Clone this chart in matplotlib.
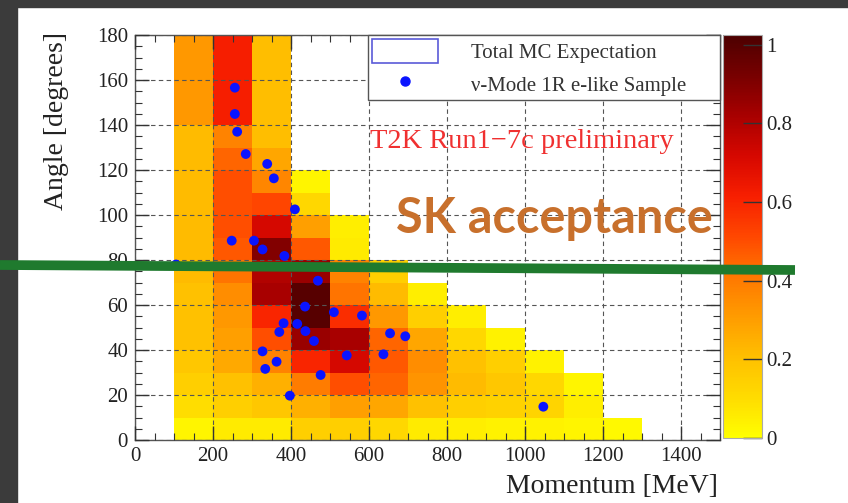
import numpy as np
import matplotlib
matplotlib.use("Agg")
import matplotlib.pyplot as plt
from matplotlib.colors import LinearSegmentedColormap, Normalize
from matplotlib.patches import Rectangle, Patch
from matplotlib.lines import Line2D
from matplotlib.ticker import MultipleLocator

# ---------------- data ----------------
momentum_edges = [100, 200, 300, 400, 500, 600, 700, 800, 900, 1000, 1100, 1200, 1300]
angle_edges = list(range(0, 190, 10))

# MC expectation per momentum bin, from 0 deg upward (10 deg bins); missing = empty
mc_100_200 = [0.03, 0.10, 0.15, 0.18, 0.20, 0.20, 0.20, 0.22, 0.22, 0.22, 0.22, 0.22, 0.22, 0.22, 0.32, 0.32, 0.32, 0.32]
mc_200_300 = [0.06, 0.15, 0.20, 0.27, 0.30, 0.32, 0.35, 0.42, 0.48, 0.50, 0.50, 0.50, 0.45, 0.38, 0.62, 0.62, 0.62, 0.62]
mc_300_400 = [0.06, 0.18, 0.25, 0.38, 0.50, 0.60, 0.82, 0.80, 0.90, 0.72, 0.52, 0.37, 0.28, 0.21, 0.21, 0.21, 0.21, 0.21]
mc_400_500 = [0.15, 0.25, 0.40, 0.60, 0.85, 1.00, 1.00, 0.85, 0.48, 0.30, 0.12, 0.03]
mc_500_600 = [0.15, 0.30, 0.50, 0.72, 0.82, 0.58, 0.42, 0.38, 0.06, 0.05]
mc_600_700 = [0.12, 0.28, 0.45, 0.48, 0.45, 0.32, 0.22, 0.15]
mc_700_800 = [0.06, 0.20, 0.33, 0.35, 0.28, 0.15, 0.05]
mc_800_900 = [0.05, 0.15, 0.22, 0.20, 0.12, 0.05]
mc_900_1000 = [0.04, 0.14, 0.18, 0.15, 0.04]
mc_1000_1100 = [0.04, 0.13, 0.12, 0.04]
mc_1100_1200 = [0.03, 0.05, 0.03]
mc_1200_1300 = [0.02]
mc_columns = [mc_100_200, mc_200_300, mc_300_400, mc_400_500, mc_500_600, mc_600_700,
              mc_700_800, mc_800_900, mc_900_1000, mc_1000_1100, mc_1100_1200, mc_1200_1300]

# data events (momentum MeV, angle deg)
data_momentum = [256, 256, 262, 284, 339, 356, 410, 248, 305, 327, 383, 105,
                 469, 436, 510, 582, 381, 416, 370, 437, 459, 654, 693, 327,
                 543, 637, 334, 363, 476, 397, 1047]
data_angle = [156.6, 144.9, 137.0, 127.1, 122.7, 116.3, 102.5, 88.6, 88.6, 84.7, 81.8, 78.0,
              70.8, 59.3, 56.8, 55.3, 51.9, 51.6, 48.0, 48.4, 44.0, 47.4, 46.1, 39.4,
              37.6, 38.1, 31.6, 34.8, 28.9, 19.7, 14.8]

xticks = [0, 200, 400, 600, 800, 1000, 1200, 1400]
yticks = [0, 20, 40, 60, 80, 100, 120, 140, 160, 180]
cbar_ticks = [0, 0.2, 0.4, 0.6, 0.8, 1]
cbar_labels = ["0", "0.2", "0.4", "0.6", "0.8", "1"]

# ---------------- figure ----------------
W, H = 848, 503
fig = plt.figure(figsize=(W / 100, H / 100), dpi=100, facecolor="white")

# dark slide frame
fig.add_artist(Rectangle((0, 0), 17 / W, 1, transform=fig.transFigure, color="#3b3b3b", zorder=0))
fig.add_artist(Rectangle((0, 1 - 7 / H), 1, 7 / H, transform=fig.transFigure, color="#3b3b3b", zorder=0))

ax_l, ax_r, ax_t, ax_b = 135, 720, 35, 440
ax = fig.add_axes([ax_l / W, 1 - ax_b / H, (ax_r - ax_l) / W, (ax_b - ax_t) / H])

cmap = LinearSegmentedColormap.from_list("heat", [
    (0.00, (1.00, 1.00, 0.00)),
    (0.10, (1.00, 0.86, 0.00)),
    (0.20, (1.00, 0.75, 0.00)),
    (0.30, (1.00, 0.61, 0.00)),
    (0.40, (1.00, 0.47, 0.00)),
    (0.50, (1.00, 0.28, 0.00)),
    (0.60, (0.97, 0.12, 0.00)),
    (0.70, (0.84, 0.03, 0.00)),
    (0.80, (0.66, 0.00, 0.00)),
    (0.90, (0.47, 0.00, 0.00)),
    (1.00, (0.30, 0.00, 0.00)),
])
norm = Normalize(vmin=0, vmax=1.025)

Z = np.full((len(angle_edges) - 1, len(momentum_edges) - 1), np.nan)
for j, col in enumerate(mc_columns):
    Z[:len(col), j] = col
mesh = ax.pcolormesh(momentum_edges, angle_edges, np.ma.masked_invalid(Z),
                     cmap=cmap, norm=norm, shading="flat", zorder=1)

ax.scatter(data_momentum, data_angle, s=50, color="#0a14ff", edgecolors="none", zorder=4)

ax.set_xlim(0, 1500)
ax.set_ylim(0, 180)
ax.set_xticks(xticks)
ax.set_yticks(yticks)
ax.xaxis.set_minor_locator(MultipleLocator(50))
ax.yaxis.set_minor_locator(MultipleLocator(5))
ax.tick_params(which="both", direction="in", top=True, right=True, color="#333")
ax.tick_params(which="major", length=10, width=1)
ax.tick_params(which="minor", length=5, width=0.8)
ax.tick_params(axis="both", labelsize=15, labelcolor="#222", pad=5)
for lab in ax.get_xticklabels() + ax.get_yticklabels():
    lab.set_fontfamily("Liberation Serif")
ax.grid(True, which="major", linestyle=(0, (4, 3)), color="#555555", linewidth=0.8)
ax.set_axisbelow(False)
for sp in ax.spines.values():
    sp.set_color("#555")
    sp.set_linewidth(1)

ax.set_xlabel("Momentum [MeV]", fontsize=20, family="Liberation Serif", color="#222", loc="right")
ax.xaxis.set_label_coords(0.997, -0.083)
ax.set_ylabel("Angle [degrees]", fontsize=20, family="Liberation Serif", color="#222", loc="top",
              va="center", rotation_mode="anchor")
ax.yaxis.set_label_coords(-0.135, 1.007)

# legend
handles = [Patch(facecolor="white", edgecolor="#5a5ad8", linewidth=1.2),
           Line2D([], [], ls="none", marker="o", color="#0a14ff", markersize=6.5)]
labels = ["Total MC Expectation", "\u03bd-Mode 1R e-like Sample"]
leg = ax.legend(handles, labels, loc="upper left", bbox_to_anchor=(0.398, 0.815, 0.602, 0.185),
                mode="expand", borderaxespad=0, fancybox=False, framealpha=1, edgecolor="#555",
                handlelength=3.15, handleheight=1.4, handletextpad=1.6, labelspacing=0.4,
                borderpad=0.2, prop={"family": "Liberation Serif", "size": 15})
leg.get_frame().set_linewidth(1)
leg.set_zorder(6)
for t in leg.get_texts():
    t.set_color("#333")

ax.text(0.402, 0.736, "T2K Run1\u22127c preliminary", transform=ax.transAxes, fontsize=20.5,
        family="Liberation Serif", color="#f03030", ha="left", va="center", zorder=7)
ax.text(0.717, 0.511, "SK acceptance", transform=ax.transAxes, fontsize=35,
        family="Lato", fontweight="bold", color="#c8702c", ha="center", va="baseline", zorder=7)

# colorbar
cax = fig.add_axes([723 / W, 1 - 438 / H, 39 / W, (438 - 35) / H])
cb = fig.colorbar(mesh, cax=cax, ticks=cbar_ticks)
cb.ax.set_yticklabels(cbar_labels)
cb.ax.tick_params(direction="in", length=14, width=1, color="#333", labelsize=15,
                  labelcolor="#222", pad=3)
for lab in cb.ax.get_yticklabels():
    lab.set_fontfamily("Liberation Serif")
cb.outline.set_edgecolor("#aaa")
cb.outline.set_linewidth(0.8)

# hand-drawn green line
fig.add_artist(Line2D([0, 795 / W], [1 - 265 / H, 1 - 270 / H], transform=fig.transFigure,
                      color="#1f7a2e", linewidth=7, solid_capstyle="butt", zorder=10))

fig.savefig("out.png", dpi=100, facecolor="white")
